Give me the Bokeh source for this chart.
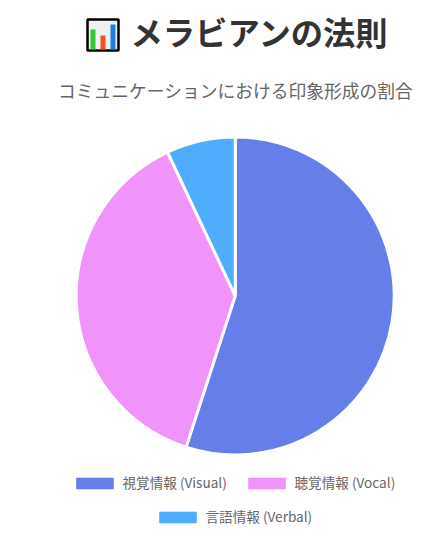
from math import pi
from bokeh.plotting import figure
from bokeh.models import ColumnDataSource, Range1d
from bokeh.core.properties import value
from bokeh.embed import file_html
from bokeh.resources import INLINE

title_text = "メラビアンの法則"
subtitle_text = "コミュニケーションにおける印象形成の割合"
labels = ["視覚情報 (Visual)", "聴覚情報 (Vocal)", "言語情報 (Verbal)"]
values = [55, 38, 7]
colors = ["#667eea", "#f093fb", "#4facfe"]

W, H = 438, 536
def X(px): return px
def Y(py): return H - py

p = figure(width=W, height=H, output_backend="svg", toolbar_location=None,
           x_range=Range1d(0, W), y_range=Range1d(0, H), min_border=0,
           outline_line_color=None, background_fill_color="white", border_fill_color="white")
p.axis.visible = False
p.grid.visible = False

# pie
total = sum(values)
starts, ends, c = [], [], 0
for v in values:
    starts.append(pi / 2 - 2 * pi * c / total)
    c += v
    ends.append(pi / 2 - 2 * pi * c / total)
src = ColumnDataSource(dict(s=starts, e=ends, color=colors, x=[X(234.7)] * 3, y=[Y(295.4)] * 3))
p.wedge(x="x", y="y", radius=159, start_angle="s", end_angle="e", direction="clock",
        fill_color="color", line_color="white", line_width=3, source=src)

# title icon (the bar-chart emoji)
p.quad(left=[X(87)], right=[X(118)], bottom=[Y(50)], top=[Y(19)], fill_color="#eef0f4",
       line_color="black", line_width=2.5)
p.quad(left=[X(90), X(100), X(110)], right=[X(95), X(105), X(115)],
       bottom=[Y(49)] * 3, top=[Y(29), Y(35), Y(24)],
       fill_color=["#2ecc2e", "#f4511e", "#1a7fe0"], line_color=None)

# titles
p.text(x=[X(130)], y=[Y(30.5)], text=[title_text], text_font=value("Noto Sans CJK JP"),
       text_font_size="32.3px", text_font_style="bold", text_color="#333333",
       text_align="left", text_baseline="middle")
p.text(x=[X(235)], y=[Y(89)], text=[subtitle_text], text_font=value("Noto Sans CJK JP"),
       text_font_size="17.75px", text_color="#666666", text_align="center", text_baseline="middle")

# legend
lx = [76, 248, 159]
ly = [483, 483, 517]
p.quad(left=[X(a) for a in lx], right=[X(a + 37) for a in lx],
       bottom=[Y(b + 5.5) for b in ly], top=[Y(b - 5.5) for b in ly],
       fill_color=colors, line_color=colors, line_alpha=0.6, line_width=1)
p.text(x=[X(a + 46) for a in lx], y=[Y(b - 1.5) for b in ly], text=labels,
       text_font=value("Noto Sans CJK JP"), text_font_size="13.6px", text_color="#666666",
       text_align="left", text_baseline="middle")

open("out.html", "w").write(file_html(p, INLINE))
